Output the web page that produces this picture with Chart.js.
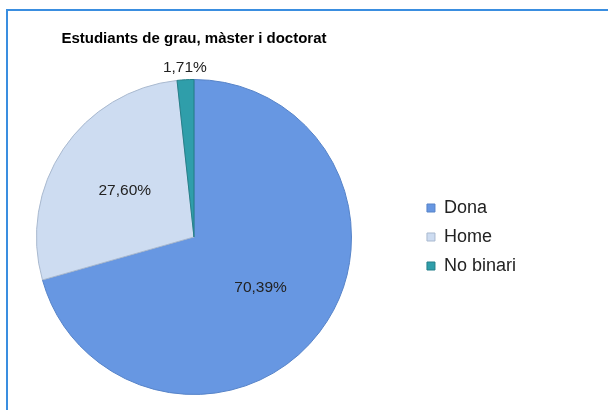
<!DOCTYPE html>
<html>
<head>
<meta charset="utf-8">
<script src="https://cdn.jsdelivr.net/npm/chart.js@4"></script>
<style>
  body { margin: 0; background: #fff; }
  #wrap { position: relative; width: 608px; height: 410px; overflow: hidden; }
  #frame {
    position: absolute; left: 6px; top: 9px; width: 700px; height: 500px;
    border-top: 2px solid #3a8ee0; border-left: 2px solid #3a8ee0;
    pointer-events: none;
  }
  canvas { position: absolute; left: -28px; top: 0; }
</style>
</head>
<body>
<div id="wrap">
  <canvas id="pieChart" width="636" height="410"></canvas>
  <div id="frame"></div>
</div>
<script>
const title = 'Estudiants de grau, màster i doctorat';
const categories = ['Dona', 'Home', 'No binari'];
const shares = [70.39, 27.60, 1.71];
const sliceColors = ['#6797e2', '#cddcf1', '#2f9eaa'];
const edgeColors = ['#5683c8', '#a9b9cf', '#257f89'];

Chart.defaults.font.family = '"Liberation Sans", Arial, sans-serif';
Chart.defaults.color = '#222';

function formatShare(v) {
    return v.toFixed(2).replace('.', ',') + '%';
}

// percent labels: inside the big slices, just outside the thin one
const sliceLabels = {
    id: 'sliceLabels',
    afterDatasetsDraw(chart) {
        const ctx = chart.ctx;
        const meta = chart.getDatasetMeta(0);
        ctx.save();
        ctx.font = '15.5px "Liberation Sans", Arial, sans-serif';
        ctx.fillStyle = '#222';
        ctx.textAlign = 'center';
        ctx.textBaseline = 'middle';
        meta.data.forEach((arc, i) => {
            const p = arc.getProps(['x', 'y', 'startAngle', 'endAngle', 'outerRadius'], true);
            const mid = (p.startAngle + p.endAngle) / 2;
            const r = shares[i] < 5 ? p.outerRadius + 12 : p.outerRadius * 0.53;
            ctx.fillText(formatShare(shares[i]), p.x + Math.cos(mid) * r, p.y + Math.sin(mid) * r);
        });
        ctx.restore();
    }
};

const ctx = document.getElementById('pieChart').getContext('2d');
const pieChart = new Chart(ctx, {
    type: 'pie',
    data: {
        labels: categories,
        datasets: [
            {
                data: shares,
                backgroundColor: sliceColors,
                borderColor: edgeColors,
                borderWidth: 1
            }
        ]
    },
    options: {
        responsive: false,
        animation: false,
        layout: {
            padding: { left: 0, right: 82, top: 0, bottom: 15 }
        },
        plugins: {
            title: {
                display: true,
                text: title,
                fullSize: false,
                color: '#000',
                font: { size: 15, weight: 'bold' },
                padding: { top: 30, bottom: 31 }
            },
            legend: {
                position: 'right',
                fullSize: false,
                labels: {
                    boxWidth: 8,
                    boxHeight: 8,
                    padding: 11,
                    color: '#222',
                    font: { size: 18 }
                }
            },
            tooltip: { enabled: false }
        }
    },
    plugins: [sliceLabels]
});
</script>
</body>
</html>
